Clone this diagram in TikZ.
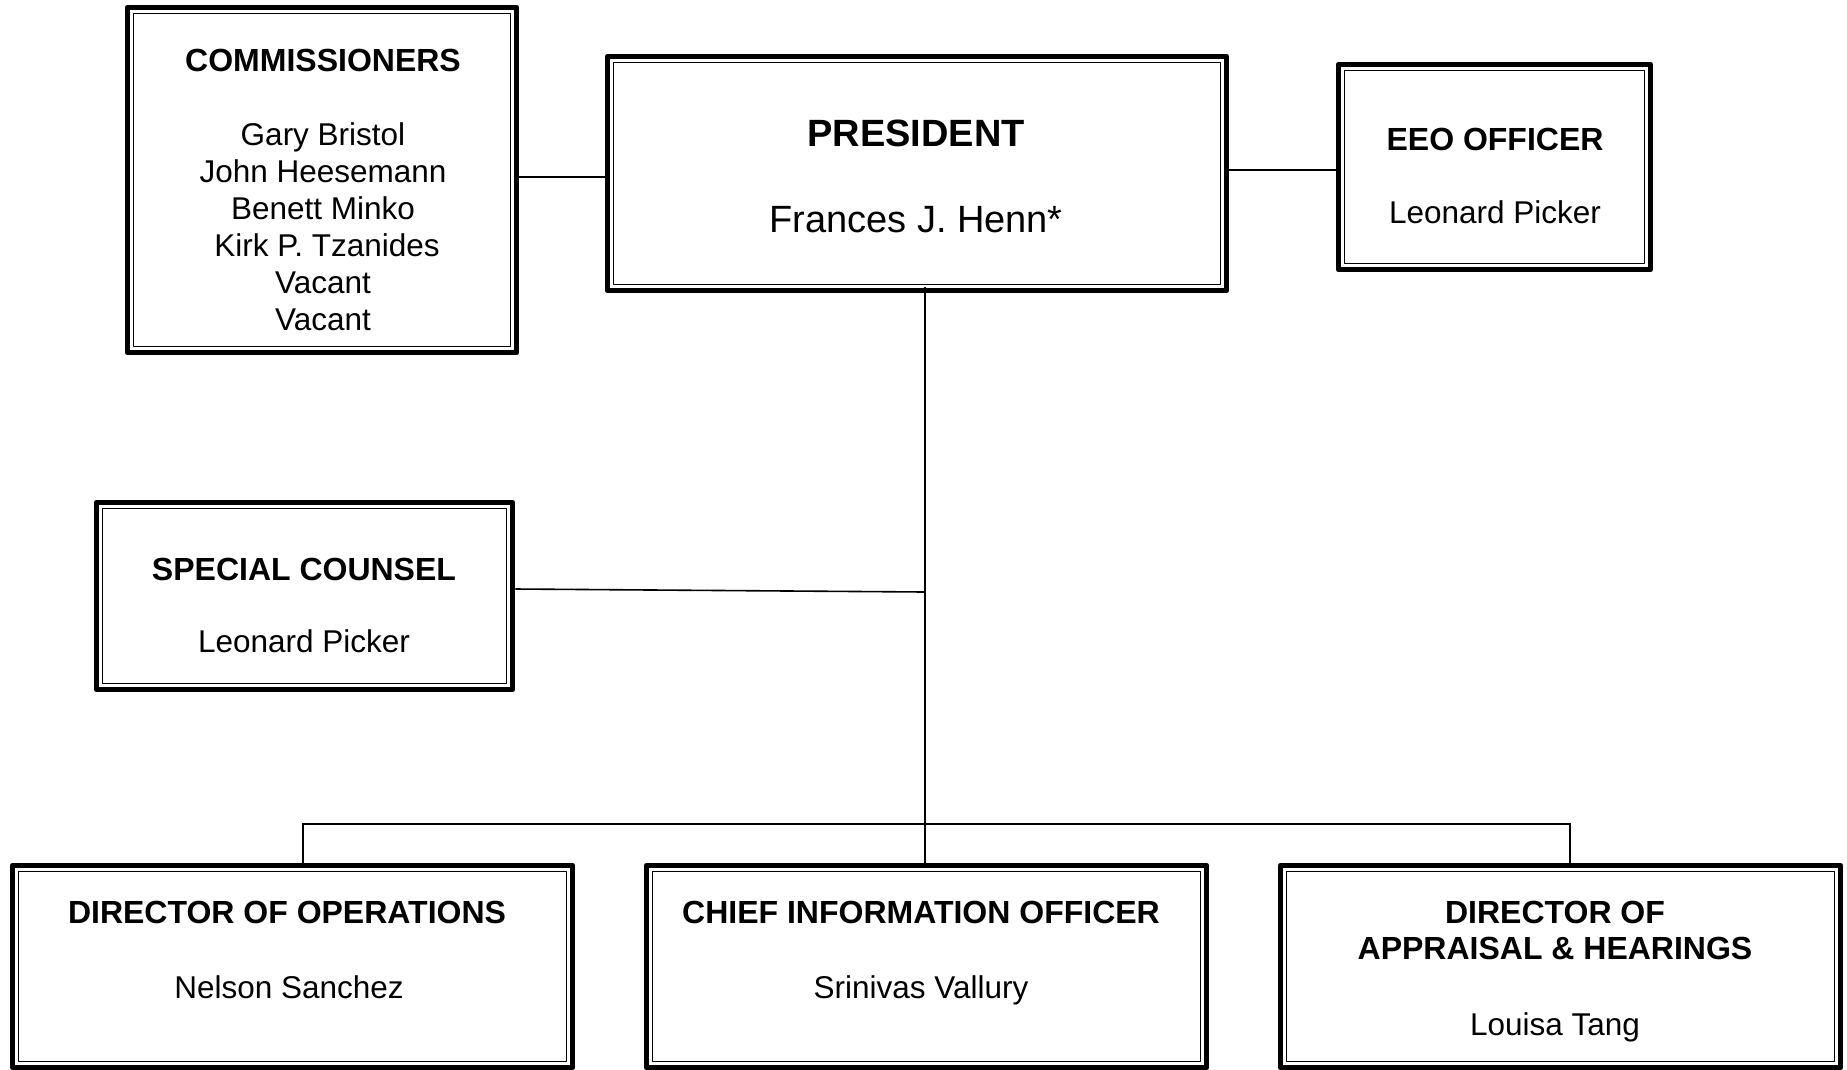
\documentclass[tikz,border=0pt]{standalone}
\usepackage{fontspec}
\setmainfont{Liberation Sans}
\begin{document}
\begin{tikzpicture}[x=1pt,y=-1pt,
  box/.style={draw, line width=5.5pt, line join=round, rectangle, inner sep=0pt,
    path picture={\draw[line width=1.4pt]
      ([shift={(6pt,-6pt)}]path picture bounding box.north west) rectangle
      ([shift={(-6pt,6pt)}]path picture bounding box.south east);}},
  conn/.style={line width=1.6pt},
  ttl/.style={font=\fontsize{32}{38}\selectfont\bfseries, anchor=base, inner sep=0pt},
  nm/.style={font=\fontsize{31.5}{37}\selectfont, anchor=base, inner sep=0pt},
  bigttl/.style={font=\fontsize{38}{44}\selectfont\bfseries, anchor=base, inner sep=0pt},
  bignm/.style={font=\fontsize{38}{44}\selectfont, anchor=base, inner sep=0pt}]
\useasboundingbox (0,0) rectangle (1847,1069);
\clip (0,0) rectangle (1847,1069);

% boxes
\node[box, minimum width=389pt, minimum height=345pt] (comm) at (322,180) {};
\node[box, minimum width=619pt, minimum height=234pt] (pres) at (917,173.5) {};
\node[box, minimum width=312pt, minimum height=205pt] (eeo) at (1494.5,167) {};
\node[box, minimum width=416pt, minimum height=187pt] (sc) at (304.5,596) {};
\node[box, minimum width=560pt, minimum height=202pt] (ops) at (292.5,966.5) {};
\node[box, minimum width=560pt, minimum height=202pt] (cio) at (926.5,966.5) {};
\node[box, minimum width=560pt, minimum height=202pt] (app) at (1560.5,966.5) {};

% texts
\node[ttl] (commT) at (323,71.5) {COMMISSIONERS};
\node[nm] (commN1) at (323,145.5) {Gary Bristol};
\node[nm] (commN2) at (323,182.5) {John Heesemann};
\node[nm] (commN3) at (323,219.5) {Benett Minko};
\node[nm] (commN4) at (327,256.5) {Kirk P. Tzanides};
\node[nm] (commN5) at (323,293.5) {Vacant};
\node[nm] (commN6) at (323,330.5) {Vacant};

\node[bigttl] (presT) at (916,146.5) {PRESIDENT};
\node[bignm] (presN) at (916,232.5) {Frances J. Henn*};

\node[ttl] (eeoT) at (1495,150.5) {EEO OFFICER};
\node[nm] (eeoN) at (1495,223.5) {Leonard Picker};

\node[ttl] (scT) at (304,580.5) {SPECIAL COUNSEL};
\node[nm] (scN) at (304,652.5) {Leonard Picker};

\node[ttl] (opsT) at (287,923.5) {DIRECTOR OF OPERATIONS};
\node[nm] (opsN) at (289,998.5) {Nelson Sanchez};

\node[ttl] (cioT) at (921,923.5) {CHIEF INFORMATION OFFICER};
\node[nm] (cioN) at (921,998.5) {Srinivas Vallury};

\node[ttl] (appT1) at (1555,923.5) {DIRECTOR OF};
\node[ttl] (appT2) at (1555,959.5) {APPRAISAL \& HEARINGS};
\node[nm] (appN) at (1555,1035.5) {Louisa Tang};

% connector helper coordinates
\coordinate (cp) at (560,177);
\coordinate (pe) at (1280,170);
\coordinate (tr) at (925,0);
\coordinate (scj) at (925,592);
\coordinate (busL) at (303,824);
\coordinate (busR) at (1570,824);

% connectors
\draw[conn] (cp -| comm.east) -- (cp -| pres.west);
\draw[conn] (pe -| pres.east) -- (pe -| eeo.west);
\draw[conn] ([yshift=6pt]tr |- pres.south) -- (tr |- cio.north);
\draw[conn] ([yshift=7pt]sc.east) -- (scj);
\draw[conn] (busL |- ops.north) -- (busL) -- (busR) -- (busR |- app.north);
\end{tikzpicture}
\end{document}
